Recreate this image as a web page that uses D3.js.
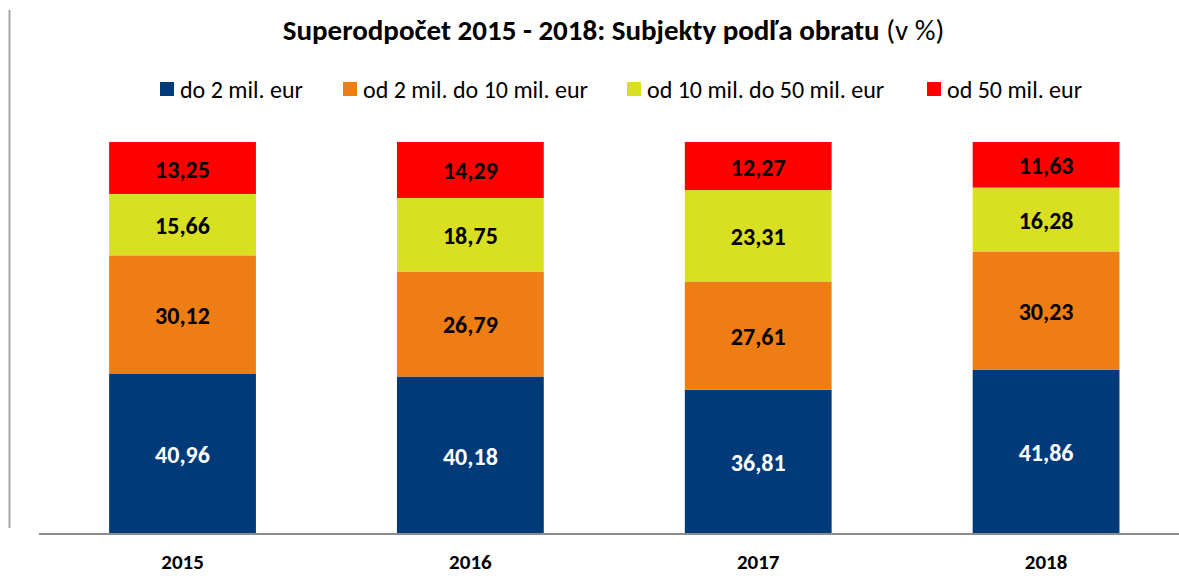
<!DOCTYPE html>
<html>
<head>
<meta charset="utf-8">
<script src="https://cdn.jsdelivr.net/npm/d3@7"></script>
<style>
  body { margin: 0; background: #fff; }
  svg text { font-family: Carlito, Calibri, Lato, "Open Sans", sans-serif; }
</style>
</head>
<body>
<div id="chart"></div>
<script>
const width = 1179;
const height = 576;

const years = ["2015", "2016", "2017", "2018"];
const categories = ["do 2 mil. eur", "od 2 mil. do 10 mil. eur", "od 10 mil. do 50 mil. eur", "od 50 mil. eur"];
const colors = ["#003a78", "#ee7d14", "#d9df21", "#ff0000"];
const share_do2 = [40.96, 40.18, 36.81, 41.86];
const share_2to10 = [30.12, 26.79, 27.61, 30.23];
const share_10to50 = [15.66, 18.75, 23.31, 16.28];
const share_od50 = [13.25, 14.29, 12.27, 11.63];

const rows = years.map((y, i) => ({
  year: y,
  [categories[0]]: share_do2[i],
  [categories[1]]: share_2to10[i],
  [categories[2]]: share_10to50[i],
  [categories[3]]: share_od50[i]
}));

const svg = d3.select("#chart").append("svg")
  .attr("width", width)
  .attr("height", height);

const x = d3.scaleBand().domain(years).range([38.6, 1190]).paddingInner(0.49).paddingOuter(0.245);
const y = d3.scaleLinear().domain([0, 100]).range([534, 142]);
const color = d3.scaleOrdinal().domain(categories).range(colors);

// left border line
svg.append("line")
  .attr("x1", 9.5).attr("x2", 9.5)
  .attr("y1", 10).attr("y2", 528)
  .attr("stroke", "#a6a6a6").attr("stroke-width", 2);

// title
const title = svg.append("text")
  .attr("x", 613.5).attr("y", 40)
  .attr("text-anchor", "middle")
  .style("font-size", "29px");
title.append("tspan").attr("font-weight", "bold").text("Superodpočet 2015 - 2018: Subjekty podľa obratu ");
title.append("tspan").text("(v %)");

// legend
const legendX = [160, 343, 627, 927];
const legend = svg.selectAll(".legend-item")
  .data(categories)
  .enter().append("g")
  .attr("class", "legend-item")
  .attr("transform", (d, i) => `translate(${legendX[i]},82)`);
legend.append("rect")
  .attr("width", 14).attr("height", 14)
  .attr("fill", d => color(d));
legend.append("text")
  .attr("x", 20).attr("y", 7)
  .attr("dominant-baseline", "central")
  .style("font-size", "24px")
  .attr("fill", "#000")
  .text(d => d);

const series = d3.stack().keys(categories)(rows);

const layer = svg.selectAll(".layer")
  .data(series)
  .enter().append("g")
  .attr("class", "layer")
  .attr("fill", d => color(d.key));

layer.selectAll("rect")
  .data(d => d)
  .enter().append("rect")
  .attr("x", d => x(d.data.year))
  .attr("width", x.bandwidth())
  .attr("y", d => y(d[1]))
  .attr("height", d => y(d[0]) - y(d[1]));

layer.selectAll("text")
  .data(d => d.map(v => ({ v, key: d.key })))
  .enter().append("text")
  .attr("x", d => x(d.v.data.year) + x.bandwidth() / 2)
  .attr("y", d => (y(d.v[0]) + y(d.v[1])) / 2 + 1)
  .attr("text-anchor", "middle")
  .attr("dominant-baseline", "central")
  .attr("font-weight", "bold")
  .style("font-size", "24px")
  .attr("fill", d => d.key === categories[0] ? "#fff" : "#000")
  .text(d => d3.format(".2f")(d.v.data[d.key]).replace(".", ","));

// x axis
const axis = svg.append("g")
  .attr("transform", "translate(0,534)")
  .call(d3.axisBottom(x).tickSize(0).tickPadding(20));
axis.select(".domain").attr("stroke", "#8c8c8c").attr("stroke-width", 2).attr("d", "M39,0H1179");
axis.selectAll("text")
  .attr("font-weight", "bold")
  .style("font-size", "21px")
  .attr("fill", "#000");
</script>
</body>
</html>
